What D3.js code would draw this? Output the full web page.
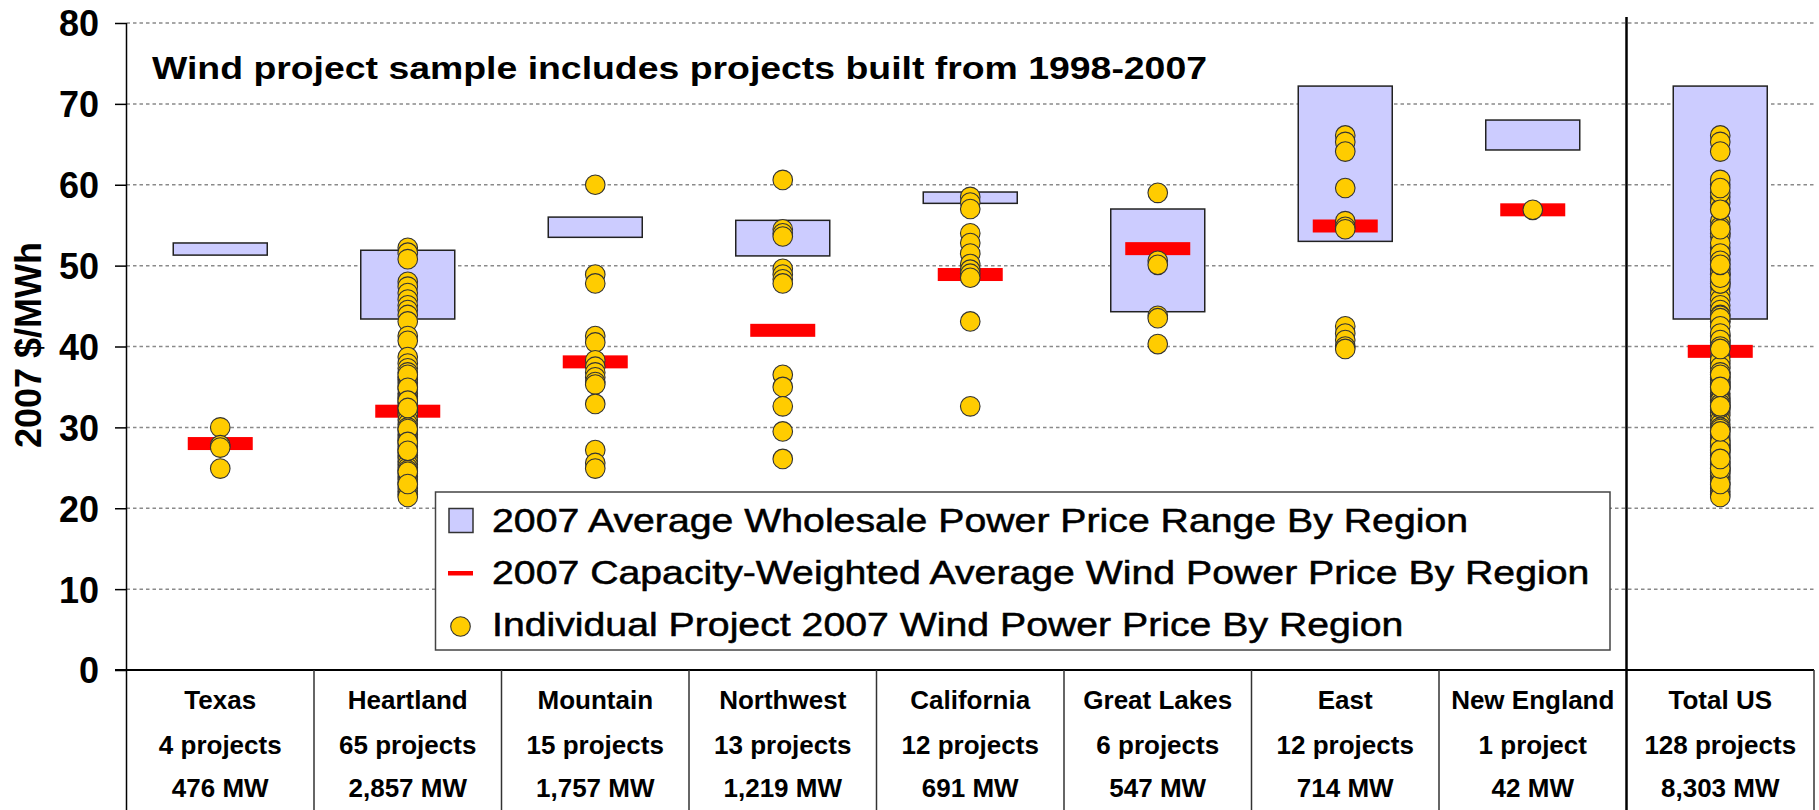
<!DOCTYPE html>
<html>
<head>
<meta charset="utf-8">
<script src="https://cdn.jsdelivr.net/npm/d3@7/dist/d3.min.js"></script>
<style>
  body { margin: 0; background: #fff; }
  svg { display: block; font-family: "Liberation Sans", Arial, Helvetica, sans-serif; }
</style>
</head>
<body>
<svg id="chart" width="1819" height="810"></svg>
<script>
// regions and table labels
var regions = ["Texas", "Heartland", "Mountain", "Northwest", "California", "Great Lakes", "East", "New England", "Total US"];
var projectLabels = ["4 projects", "65 projects", "15 projects", "13 projects", "12 projects", "6 projects", "12 projects", "1 project", "128 projects"];
var mwLabels = ["476 MW", "2,857 MW", "1,757 MW", "1,219 MW", "691 MW", "547 MW", "714 MW", "42 MW", "8,303 MW"];

// 2007 average wholesale power price range by region ($/MWh)
var rangeLow = [51.3, 43.4, 53.5, 51.2, 57.7, 44.3, 53.0, 64.3, 43.4];
var rangeHigh = [52.8, 51.9, 56.0, 55.6, 59.1, 57.0, 72.2, 68.0, 72.2];

// capacity-weighted average wind power price by region
var avgPrice = [28.0, 32.0, 38.1, 42.0, 48.9, 52.1, 54.9, 56.9, 39.4];

// individual project prices
var texasDots = [30.0, 27.8, 27.5, 24.9];
var heartlandDots = [
  52.2, 51.6, 50.8, 48.0, 47.4, 46.6, 45.8, 45.1, 44.5, 43.9, 43.1, 41.3, 40.7, 38.7, 37.9,
  37.3, 36.8, 36.2, 35.9, 35.5, 35.1, 34.7, 34.2, 33.8, 33.5, 33.1, 32.7, 32.2, 31.8, 31.5,
  30.9, 30.4, 30.0, 29.6, 29.1, 28.7, 28.4, 28.0, 27.6, 27.3, 26.9, 26.5, 26.2, 25.8, 25.4,
  25.0, 24.7, 24.3, 23.9, 23.6, 23.2, 22.9, 22.5, 22.1, 21.7, 21.4,
  36.5, 34.9, 33.3, 29.8, 28.2, 27.1, 24.5, 23.0, 32.4
];
var mountainDots = [60.0, 48.9, 47.8, 41.3, 40.5, 38.3, 37.5, 36.8, 36.2, 35.6, 35.3, 32.9, 27.2, 25.6, 24.9];
var northwestDots = [60.6, 54.5, 54.0, 53.6, 49.6, 48.9, 48.3, 47.8, 36.5, 35.0, 32.6, 29.5, 26.1];
var californiaDots = [58.5, 57.8, 57.0, 54.0, 52.8, 51.5, 50.2, 49.5, 49.0, 48.5, 43.1, 32.6];
var greatLakesDots = [59.0, 50.6, 50.1, 43.8, 43.5, 40.3];
var eastDots = [66.1, 65.3, 64.1, 59.6, 55.5, 54.8, 54.5, 42.5, 41.6, 40.8, 40.0, 39.7];
var newEnglandDots = [56.9];

var yTicks = [0, 10, 20, 30, 40, 50, 60, 70, 80];
var titleText = "Wind project sample includes projects built from 1998-2007";
var yTitle = "2007 $/MWh";
var legendLabels = [
  "2007 Average Wholesale Power Price Range By Region",
  "2007 Capacity-Weighted Average Wind Power Price By Region",
  "Individual Project 2007 Wind Power Price By Region"
];

var regionDots = [texasDots, heartlandDots, mountainDots, northwestDots, californiaDots,
                  greatLakesDots, eastDots, newEnglandDots];
// Total US column holds every project of the regions
regionDots.push(d3.merge(regionDots));

var rows = regions.map(function(r, i) {
  return { region: r, low: rangeLow[i], high: rangeHigh[i], avg: avgPrice[i], dots: regionDots[i] };
});

var svg = d3.select("#chart");
var plotLeft = 126.5, plotRight = 1814, plotTop = 23, plotBottom = 670;

var x = d3.scaleBand().domain(regions).range([plotLeft, plotRight]).padding(0);
var y = d3.scaleLinear().domain([0, 80]).range([plotBottom, plotTop]);
var bw = x.bandwidth();

// gridlines
svg.append("g").selectAll("line")
  .data(yTicks.filter(function(d) { return d > 0; }))
  .enter().append("line")
  .attr("x1", plotLeft).attr("x2", plotRight)
  .attr("y1", function(d) { return y(d); })
  .attr("y2", function(d) { return y(d); })
  .attr("stroke", "#8a8a8a")
  .attr("stroke-width", 1.5)
  .attr("stroke-dasharray", "3.5,3");

// price range boxes
svg.append("g").selectAll("rect")
  .data(rows)
  .enter().append("rect")
  .attr("x", function(d) { return x(d.region) + bw / 2 - 47; })
  .attr("width", 94)
  .attr("y", function(d) { return y(d.high); })
  .attr("height", function(d) { return y(d.low) - y(d.high); })
  .attr("fill", "#ccccff")
  .attr("stroke", "#222")
  .attr("stroke-width", 1.5);

// capacity-weighted averages
svg.append("g").selectAll("rect")
  .data(rows)
  .enter().append("rect")
  .attr("x", function(d) { return x(d.region) + bw / 2 - 32.5; })
  .attr("width", 65)
  .attr("y", function(d) { return y(d.avg) - 6.5; })
  .attr("height", 13)
  .attr("fill", "#ff0000");

// individual projects
var dotGroups = svg.append("g").selectAll("g")
  .data(rows)
  .enter().append("g");
dotGroups.selectAll("circle")
  .data(function(d) { return d.dots.map(function(v) { return { region: d.region, v: v }; }); })
  .enter().append("circle")
  .attr("cx", function(d) { return x(d.region) + bw / 2; })
  .attr("cy", function(d) { return y(d.v); })
  .attr("r", 9.8)
  .attr("fill", "#ffcc00")
  .attr("stroke", "#333")
  .attr("stroke-width", 1.1);

// title
svg.append("text")
  .attr("x", 152).attr("y", 79)
  .attr("font-size", 31)
  .attr("font-weight", "bold")
  .attr("textLength", 1055)
  .attr("lengthAdjust", "spacingAndGlyphs")
  .text(titleText);

// legend
var lg = svg.append("g");
lg.append("rect")
  .attr("x", 435.5).attr("y", 492)
  .attr("width", 1174.5).attr("height", 158)
  .attr("fill", "#fff")
  .attr("stroke", "#444")
  .attr("stroke-width", 1.5);
lg.append("rect")
  .attr("x", 449).attr("y", 508.5).attr("width", 24).attr("height", 24)
  .attr("fill", "#ccccff").attr("stroke", "#333").attr("stroke-width", 1.5);
lg.append("rect")
  .attr("x", 448).attr("y", 571).attr("width", 25).attr("height", 4.5)
  .attr("fill", "#ff0000");
lg.append("circle")
  .attr("cx", 460.5).attr("cy", 626.5).attr("r", 9.8)
  .attr("fill", "#ffcc00").attr("stroke", "#333").attr("stroke-width", 1.1);
var legendBase = [532, 584, 636];
lg.selectAll("text.leg")
  .data(legendLabels)
  .enter().append("text")
  .attr("class", "leg")
  .attr("transform", function(d, i) { return "translate(492," + legendBase[i] + ") scale(1.207,1)"; })
  .attr("font-size", 32.5)
  .attr("stroke", "#000")
  .attr("stroke-width", 0.5)
  .text(function(d) { return d; });

// y axis
var yAxis = d3.axisLeft(y).tickValues(yTicks).tickSize(11.5).tickPadding(16);
var ga = svg.append("g").attr("transform", "translate(" + plotLeft + ",0)").call(yAxis);
ga.select(".domain").remove();
ga.selectAll(".tick line").attr("stroke", "#000").attr("stroke-width", 1.5);
ga.selectAll(".tick text")
  .attr("font-family", "'Liberation Sans', Arial, sans-serif")
  .attr("font-size", 36)
  .attr("font-weight", "bold")
  .attr("fill", "#000")
  .attr("dy", "0.36em");

svg.append("line")
  .attr("x1", plotLeft).attr("x2", plotLeft).attr("y1", plotTop).attr("y2", 810)
  .attr("stroke", "#000").attr("stroke-width", 1.5);

svg.append("text")
  .attr("transform", "translate(41,345) rotate(-90)")
  .attr("text-anchor", "middle")
  .attr("font-size", 36)
  .attr("font-weight", "bold")
  .text(yTitle);

// x axis line / table top
svg.append("line")
  .attr("x1", 115).attr("x2", plotRight).attr("y1", plotBottom).attr("y2", plotBottom)
  .attr("stroke", "#000").attr("stroke-width", 2);

// table dividers
svg.append("g").selectAll("line")
  .data(regions.slice(1))
  .enter().append("line")
  .attr("x1", function(d) { return x(d); })
  .attr("x2", function(d) { return x(d); })
  .attr("y1", function(d) { return d === "Total US" ? 17 : plotBottom; })
  .attr("y2", 810)
  .attr("stroke", function(d) { return d === "Total US" ? "#000" : "#333"; })
  .attr("stroke-width", function(d) { return d === "Total US" ? 2.5 : 1.5; });
svg.append("line")
  .attr("x1", plotRight).attr("x2", plotRight).attr("y1", plotBottom).attr("y2", 810)
  .attr("stroke", "#333").attr("stroke-width", 1.5);

// table text
var rowText = [regions, projectLabels, mwLabels];
var rowBase = [709, 754, 797];
rowText.forEach(function(list, r) {
  svg.append("g").selectAll("text")
    .data(list)
    .enter().append("text")
    .attr("x", function(d, i) { return x(regions[i]) + bw / 2; })
    .attr("y", rowBase[r])
    .attr("text-anchor", "middle")
    .attr("font-size", 26)
    .attr("font-weight", "bold")
    .text(function(d) { return d; });
});
</script>
</body>
</html>
